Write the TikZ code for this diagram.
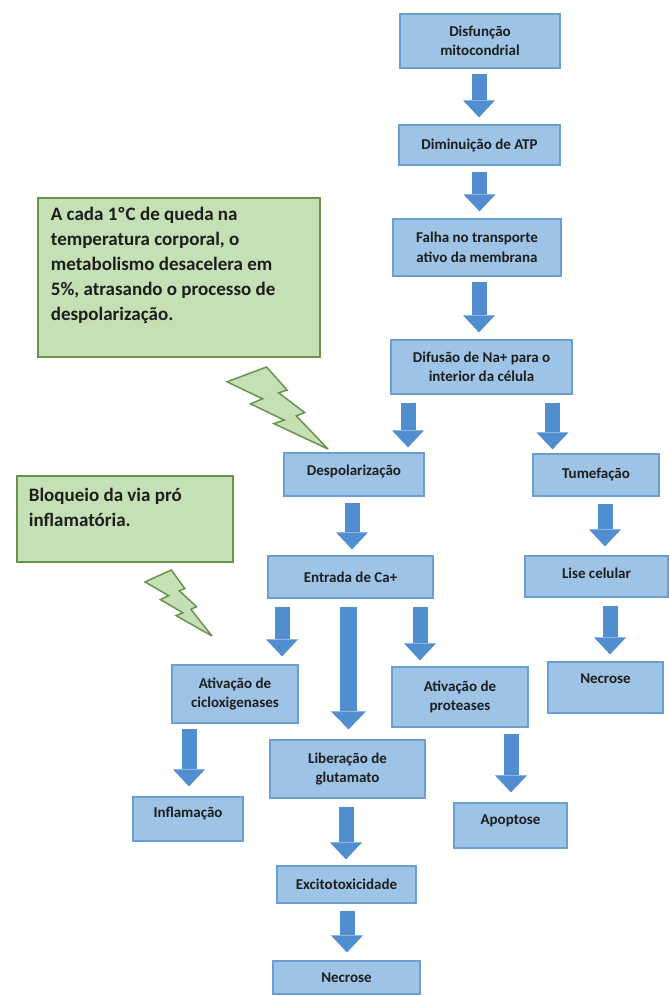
\documentclass[tikz,border=0pt]{standalone}
\usepackage{fontspec}
\setmainfont{Carlito}
\usetikzlibrary{arrows.meta,calc}
\definecolor{boxfill}{RGB}{157,195,230}
\definecolor{boxline}{RGB}{108,158,210}
\definecolor{arrowblue}{RGB}{80,142,208}
\definecolor{notefill}{RGB}{197,224,180}
\definecolor{noteline}{RGB}{104,148,78}
\definecolor{txt}{RGB}{30,30,30}
\tikzset{
  stepbox/.style={draw=boxline, fill=boxfill, line width=1.2pt, inner sep=0pt,
    align=center, font=\bfseries\fontsize{15}{19.5}\selectfont, text=txt},
  barrow/.style={draw=arrowblue, line width=15pt,
    -{Triangle[length=17pt,width=32pt,line width=0pt]}},
  barrowwide/.style={draw=arrowblue, line width=17pt,
    -{Triangle[length=18pt,width=35pt,line width=0pt]}},
  notebox/.style={draw=noteline, fill=notefill, line width=1.8pt, inner sep=0pt,
    font=\bfseries\fontsize{19}{25}\selectfont, text=txt},
  bolt/.style={draw=noteline, fill=notefill, line width=1.5pt, line join=miter, miter limit=4},
}
\begin{document}
\begin{tikzpicture}[x=1pt,y=-1pt]
\fill[white] (0,0) rectangle (669,996);
\useasboundingbox (0,0) rectangle (669,996);

% main chain
\node[stepbox, minimum width=160pt, minimum height=54pt] (b1) at (480,41) {Disfunção\\mitocondrial};
\node[stepbox, minimum width=161pt, minimum height=40pt] (b2) at (479.5,145) {Diminuição de ATP};
\node[stepbox, minimum width=168pt, minimum height=57pt] (b3) at (477,247.5) {Falha no transporte\\ativo da membrana};
\node[stepbox, minimum width=181pt, minimum height=54pt] (b4) at (481.5,367) {Difusão de Na+ para o\\interior da célula};
\node[stepbox, minimum width=140pt, minimum height=43pt] (desp) at (354,474.5) {\raisebox{3pt}[\height][\depth]{Despolarização}};
\node[stepbox, minimum width=126pt, minimum height=42pt] (tume) at (596,475) {Tumefação};
\node[stepbox, minimum width=143pt, minimum height=41pt] (lise) at (596.5,576.5) {\raisebox{3pt}[\height][\depth]{Lise celular}};
\node[stepbox, minimum width=115pt, minimum height=51pt] (necr) at (605.5,687.5) {\raisebox{9pt}[\height][\depth]{Necrose}};
\node[stepbox, minimum width=165pt, minimum height=42pt] (entr) at (350.5,577) {Entrada de Ca+};
\node[stepbox, minimum width=126pt, minimum height=58pt] (ciclo) at (235,694) {Ativação de\\cicloxigenases};
\node[stepbox, minimum width=136pt, minimum height=60pt] (prot) at (460,697) {Ativação de\\proteases};
\node[stepbox, minimum width=155pt, minimum height=58pt] (lib) at (347.5,769) {Liberação de\\glutamato};
\node[stepbox, minimum width=110pt, minimum height=44pt] (infl) at (188,819) {\raisebox{5pt}[\height][\depth]{Inflamação}};
\node[stepbox, minimum width=113pt, minimum height=45pt] (apop) at (510.5,825.5) {\raisebox{5pt}[\height][\depth]{Apoptose}};
\node[stepbox, minimum width=139pt, minimum height=37pt] (exc) at (346.5,884.5) {Excitotoxicidade};
\node[stepbox, minimum width=147pt, minimum height=33pt] (necb) at (346.5,977.5) {Necrose};

% notes
\node[notebox, anchor=north west] (g1) at (37,197) {\parbox[t][159pt][t]{282pt}{\raggedright\leftskip=13pt\rule{0pt}{23pt}A cada 1ºC de queda na\\temperatura corporal, o\\metabolismo desacelera em\\5\%, atrasando o processo de\\despolarização.}};
\node[notebox, anchor=north west] (g2) at (16,475) {\parbox[t][86pt][t]{216pt}{\raggedright\leftskip=12pt\rule{0pt}{26pt}Bloqueio da via pró\\inflamatória.}};

% lightning bolts
\begin{scope}[shift={(227,367)}, x=101pt, y=-82pt]
\draw[bolt] (0.3922,0) -- (0.5954,0.2815) -- (0.5116,0.3147) -- (0.7693,0.5559) -- (0.6855,0.5962) -- (1,1) -- (0.4635,0.6905) -- (0.5658,0.6475) -- (0.2325,0.4493) -- (0.3519,0.3881) -- (0,0.1801) -- cycle;
\end{scope}
\begin{scope}[shift={(145,570)}, x=67pt, y=-66pt]
\draw[bolt] (0.3922,0) -- (0.5954,0.2815) -- (0.5116,0.3147) -- (0.7693,0.5559) -- (0.6855,0.5962) -- (1,1) -- (0.4635,0.6905) -- (0.5658,0.6475) -- (0.2325,0.4493) -- (0.3519,0.3881) -- (0,0.1801) -- cycle;
\end{scope}

% block arrows
\draw[barrow] ($(b1.south)+(-1,5)$) -- ($(b1.south |- b2.north)+(-1,-7)$);
\draw[barrow] ($(b2.south)+(0,6)$) -- ($(b2.south |- b3.north)+(0,-7)$);
\draw[barrow] ($(b3.south)+(2,5)$) -- ($(b3.south |- b4.north)+(2,-7)$);
\draw[barrow] ($(b4.south)+(-73.5,8)$) -- ($(b4.south |- desp.north)+(-73.5,-5)$);
\draw[barrow] ($(b4.south)+(71,8)$) -- ($(b4.south |- tume.north)+(71,-4)$);
\draw[barrow] ($(desp.south)+(-2,6)$) -- ($(desp.south |- entr.north)+(-2,-6)$);
\draw[barrow] ($(tume.south)+(9,7)$) -- ($(tume.south |- lise.north)+(9,-9)$);
\draw[barrow] ($(lise.south)+(13.5,8)$) -- ($(lise.south |- necr.north)+(13.5,-7)$);
\draw[barrow] ($(entr.south)+(-68.5,8)$) -- ($(entr.south |- ciclo.north)+(-68.5,-8)$);
\draw[barrowwide] ($(entr.south)+(-2,8)$) -- ($(entr.south |- lib.north)+(-2,-10)$);
\draw[barrow] ($(entr.south)+(69.5,8)$) -- ($(entr.south |- prot.north)+(69.5,-6)$);
\draw[barrow] ($(ciclo.south)+(-46,5)$) -- ($(ciclo.south |- infl.north)+(-46,-10)$);
\draw[barrow] ($(lib.south)+(-1.5,8)$) -- ($(lib.south |- exc.north)+(-1.5,-6)$);
\draw[barrow] ($(prot.south)+(51,6)$) -- ($(prot.south |- apop.north)+(51,-10)$);
\draw[barrow] ($(exc.south)+(0.5,7)$) -- ($(exc.south |- necb.north)+(0.5,-8)$);
\end{tikzpicture}
\end{document}
